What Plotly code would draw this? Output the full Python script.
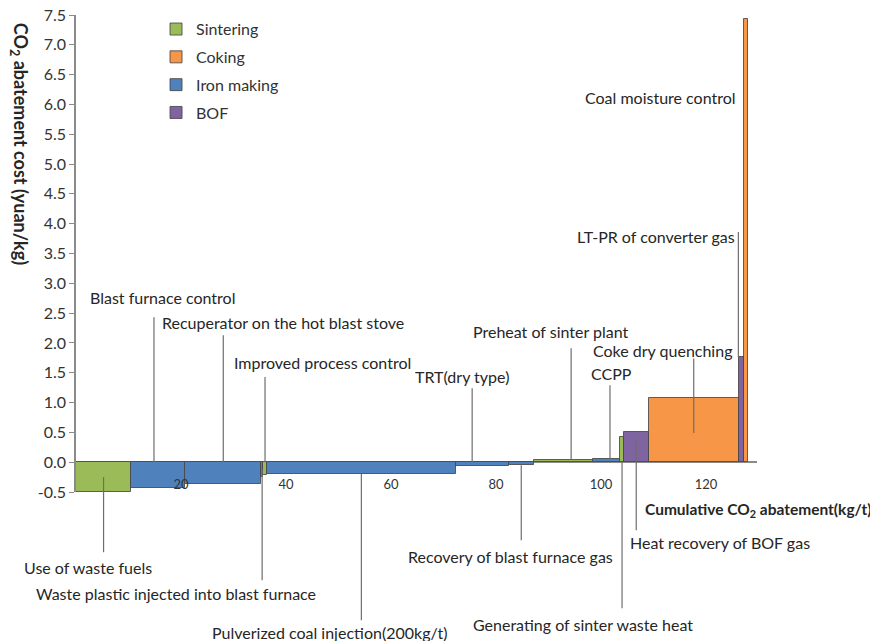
import numpy as np
import plotly.graph_objects as go

# ---------------- data ----------------
measures = [
    "Use of waste fuels",
    "Blast furnace control",
    "Recuperator on the hot blast stove",
    "Waste plastic injected into blast furnace",
    "Improved process control",
    "Pulverized coal injection(200kg/t)",
    "TRT(dry type)",
    "Recovery of blast furnace gas",
    "Preheat of sinter plant",
    "CCPP",
    "Generating of sinter waste heat",
    "Heat recovery of BOF gas",
    "Coke dry quenching",
    "LT-PR of converter gas",
    "Coal moisture control",
]
sectors = [
    "Sintering", "Iron making", "Iron making", "Iron making", "Sintering",
    "Iron making", "Iron making", "Iron making", "Sintering", "Iron making",
    "Sintering", "BOF", "Coking", "BOF", "Coking",
]
abatement = [10.5, 10.3, 14.5, 0.3, 0.8, 35.9, 10.1, 4.8, 11.2, 5.3, 0.6, 4.8, 17.1, 1.0, 0.8]
cost = [-0.50, -0.44, -0.37, -0.25, -0.22, -0.20, -0.07, -0.05, 0.04, 0.05, 0.42, 0.51, 1.08, 1.76, 7.44]

sector_order = ["Sintering", "Coking", "Iron making", "BOF"]
sector_colors = {"Sintering": "#9BBB59", "Coking": "#F79646",
                 "Iron making": "#4F81BD", "BOF": "#8064A2"}

x_ticks = [20, 40, 60, 80, 100, 120]
y_ticks = [v / 2 for v in range(-1, 16)]
y_tick_labels = [f"{v:.1f}" for v in y_ticks]

# ------------- label placement (annotation layout) -------------
# side, text x, text y, xanchor, leader offset, leader top, leader bottom
label_layout = {
    "Use of waste fuels": ("below", 2.2, -1.76, "center", 0.0, -0.25, -1.51),
    "Blast furnace control": ("above", 2.3, 2.77, "left", -0.8, 2.43, 0.0),
    "Recuperator on the hot blast stove": ("above", 16.0, 2.35, "left", 0.0, 2.13, 0.0),
    "Waste plastic injected into blast furnace": ("below", 19.1, -2.21, "center", 0.0, -0.13, -1.98),
    "Improved process control": ("above", 29.7, 1.68, "left", 0.0, 1.43, 0.0),
    "Pulverized coal injection(200kg/t)": ("below", 48.4, -2.85, "center", 0.0, -0.20, -2.65),
    "TRT(dry type)": ("above", 64.2, 1.44, "left", -1.9, 1.24, 0.0),
    "Recovery of blast furnace gas": ("below", 82.7, -1.59, "center", 0.0, -0.05, -1.31),
    "Preheat of sinter plant": ("above", 75.2, 2.20, "left", 1.5, 1.91, 0.04),
    "CCPP": ("above", 97.7, 1.48, "left", 0.65, 1.29, 0.05),
    "Generating of sinter waste heat": ("below", 96.6, -2.73, "center", 0.0, 0.0, -2.45),
    "Heat recovery of BOF gas": ("below", 105.1, -1.34, "left", 0.0, 0.40, -1.14),
    "Coke dry quenching": ("above", 98.1, 1.88, "left", 0.0, 1.74, 0.49),
    "LT-PR of converter gas": ("above", 125.9, 3.78, "right", -0.55, 3.86, 1.76),
    "Coal moisture control": ("above", 126.1, 6.12, "right", None, None, None),
}

X_RANGE = [0, 129.7]
Y_RANGE = [-0.5, 7.5]
FONT = "Lato, 'Open Sans', sans-serif"


def px_(x):
    return (x - X_RANGE[0]) / (X_RANGE[1] - X_RANGE[0])


def py_(y):
    return (y - Y_RANGE[0]) / (Y_RANGE[1] - Y_RANGE[0])


w = np.array(abatement)
c = np.array(cost)
starts = np.concatenate([[0.0], np.cumsum(w)[:-1]])
mids = starts + w / 2

fig = go.Figure()
for sec in sector_order:
    idx = [i for i, s in enumerate(sectors) if s == sec]
    fig.add_trace(go.Bar(
        x=mids[idx], y=c[idx], width=w[idx],
        name=sec, legendgroup=sec,
        marker=dict(color=sector_colors[sec],
                    line=dict(color="rgba(70,70,70,0.85)", width=1)),
        customdata=[measures[i] for i in idx],
        hovertemplate="%{customdata}<br>%{y:.2f} yuan/kg<extra></extra>",
    ))

annotations = []
shapes = []
for i, m in enumerate(measures):
    side, tx, ty, xa, off, ltop, lbot = label_layout[m]
    annotations.append(dict(
        text=m, xref="paper", yref="paper", x=px_(tx), y=py_(ty),
        xanchor=xa, yanchor="middle", showarrow=False,
        font=dict(family=FONT, size=16, color="#262626"),
    ))
    if off is not None:
        lx = px_(mids[i] + off)
        shapes.append(dict(type="line", xref="paper", yref="paper",
                           x0=lx, x1=lx, y0=py_(ltop), y1=py_(lbot),
                           line=dict(color="#6e6e6e", width=1.2)))

annotations.append(dict(
    text="<b>CO<sub>2</sub> abatement cost (yuan/kg)</b>", xref="paper", yref="paper",
    x=-0.0835, y=0.7296, xanchor="center", yanchor="middle", textangle=90,
    showarrow=False, font=dict(family=FONT, size=18, color="#262626")))
annotations.append(dict(
    text="<b>Cumulative CO<sub>2</sub> abatement(kg/t)</b>", xref="paper", yref="paper",
    x=1.1725, y=-0.0377, xanchor="right", yanchor="middle",
    showarrow=False, font=dict(family=FONT, size=15.5, color="#262626")))

# the page body adds an 8px margin, so the figure is 8px smaller than the window
fig.update_layout(
    width=870, height=633,
    margin=dict(l=68, r=121, t=7, b=149, autoexpand=False),
    paper_bgcolor="white", plot_bgcolor="white",
    barmode="overlay", bargap=0,
    font=dict(family=FONT, color="#333333"),
    showlegend=True,
    legend=dict(x=0.1175, y=1.006, xanchor="left", yanchor="top",
                font=dict(family=FONT, size=16, color="#333333"),
                traceorder="grouped", tracegroupgap=4,
                bgcolor="rgba(0,0,0,0)"),
    xaxis=dict(range=X_RANGE, tickvals=x_ticks, showgrid=False, zeroline=False,
               showline=False, ticks="", anchor="free", position=0.035,
               automargin=False,
               tickfont=dict(family=FONT, size=13, color="#333333")),
    yaxis=dict(range=Y_RANGE, tickvals=y_ticks, ticktext=y_tick_labels,
               showgrid=False, showline=True, linecolor="#8a8a8a", linewidth=1.5,
               ticks="outside", ticklen=5, tickcolor="#8a8a8a", tickwidth=1,
               zeroline=True, zerolinecolor="#8a8a8a", zerolinewidth=1.5,
               automargin=False, ticklabeloverflow="allow",
               tickfont=dict(family=FONT, size=16, color="#333333")),
    annotations=annotations,
    shapes=shapes,
)

fig.write_html("out.html")
